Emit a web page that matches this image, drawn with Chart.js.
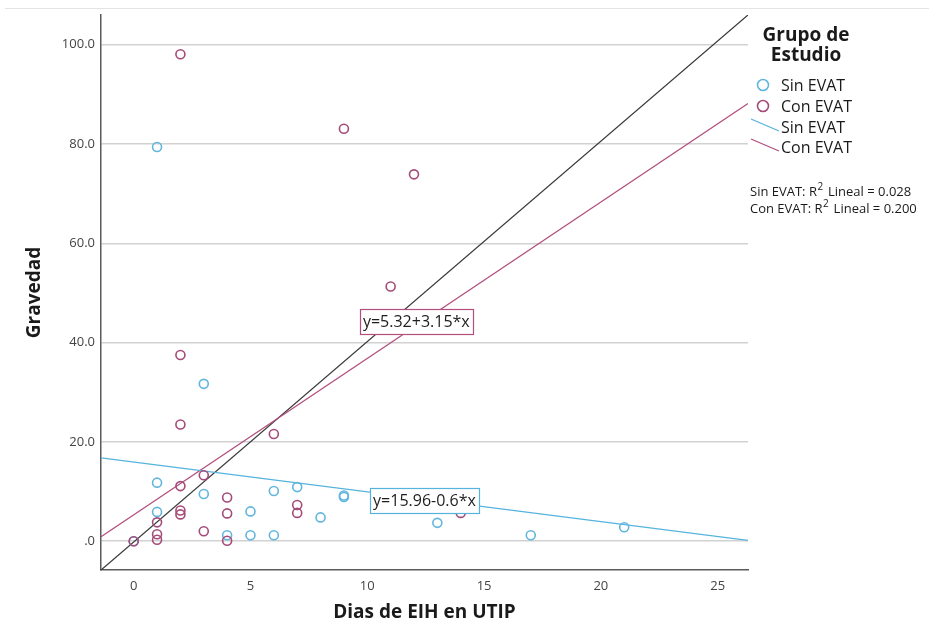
<!DOCTYPE html>
<html>
<head>
<meta charset="utf-8">
<script src="https://cdn.jsdelivr.net/npm/chart.js@4/dist/chart.umd.min.js"></script>
<style>
  html, body { margin: 0; padding: 0; background: #ffffff; }
  #wrap { width: 929px; height: 631px; }
</style>
</head>
<body>
<div id="wrap"><canvas id="c" width="929" height="631"></canvas></div>
<script>
// Grupo de estudio
const groupNames = ['Sin EVAT', 'Con EVAT'];

// Sin EVAT: días de EIH en UTIP y gravedad
const sinDias     = [0, 1, 1, 1, 3, 3, 4, 5, 5, 6, 6, 7, 8, 9, 9, 13, 17, 21];
const sinGravedad = [0, 79.4, 11.8, 5.9, 31.7, 9.5, 1.2, 6.0, 1.2, 10.1, 1.2, 10.9, 4.8, 8.9, 9.2, 3.7, 1.2, 2.8];

// Con EVAT: días de EIH en UTIP y gravedad
const conDias     = [0, 1, 1, 1, 2, 2, 2, 2, 2, 2, 3, 3, 4, 4, 4, 6, 7, 7, 9, 11, 12, 14];
const conGravedad = [0, 3.8, 1.4, 0.3, 98.1, 37.5, 23.5, 11.1, 6.2, 5.4, 13.3, 2.0, 8.8, 5.6, 0.1, 21.6, 7.3, 5.7, 83.1, 51.3, 73.9, 5.7];

// Ajustes lineales (intercepto, pendiente, R²)
const fitIntercept = [15.96, 5.32];
const fitSlope     = [-0.6, 3.15];
const fitR2        = ['0.028', '0.200'];
const fitLabels    = ['y=15.96-0.6*x', 'y=5.32+3.15*x'];

// Ejes
const xTicks = [0, 5, 10, 15, 20, 25];
const yTicks = [0, 20, 40, 60, 80, 100];
const xMin = -1.4, xMax = 26.3;
const yMin = -5.8, yMax = 106;

const BLUE_PT = '#62b6de';
const PINK_PT = '#a44b79';
const BLUE_LN = '#55b3dd';
const PINK_LN = '#b24f7d';
const FONT = "'Open Sans', 'DejaVu Sans', sans-serif";

const toPoints = (xs, ys) => xs.map((x, i) => ({ x, y: ys[i] }));
const fitLine = (k) => [
  { x: xMin, y: fitIntercept[k] + fitSlope[k] * xMin },
  { x: xMax, y: fitIntercept[k] + fitSlope[k] * xMax }
];

// Etiquetas de ecuación, leyenda y R²
const overlay = {
  id: 'overlay',
  beforeDraw(chart) {
    const ctx = chart.ctx;
    ctx.save();
    ctx.strokeStyle = '#e4e4e4';
    ctx.lineWidth = 1;
    ctx.beginPath();
    ctx.moveTo(5, 8.5);
    ctx.lineTo(929, 8.5);
    ctx.stroke();
    ctx.restore();
  },
  afterDatasetsDraw(chart) {
    const ctx = chart.ctx;
    const xs = chart.scales.x, ys = chart.scales.y;
    const anchors = [12.45, 12.1];
    const borders = [BLUE_LN, PINK_LN];
    ctx.save();
    ctx.font = '16px ' + FONT;
    ctx.textBaseline = 'middle';
    ctx.textAlign = 'center';
    for (let k = 0; k < 2; k++) {
      const dx = anchors[k];
      const cx = xs.getPixelForValue(dx);
      const cy = ys.getPixelForValue(fitIntercept[k] + fitSlope[k] * dx) + (k === 1 ? -4 : 1);
      const w = ctx.measureText(fitLabels[k]).width + 6;
      const h = 25;
      const bx = Math.round(cx - w / 2) + 0.5, by = Math.round(cy - h / 2) + 0.5;
      ctx.fillStyle = '#ffffff';
      ctx.fillRect(bx, by, Math.round(w), h);
      ctx.strokeStyle = borders[k];
      ctx.lineWidth = 1.2;
      ctx.strokeRect(bx, by, Math.round(w), h);
      ctx.fillStyle = '#1e1e1e';
      ctx.fillText(fitLabels[k], cx, cy + 1);
    }
    ctx.restore();
  },
  afterDraw(chart) {
    const ctx = chart.ctx;
    ctx.save();
    // título de la leyenda
    ctx.fillStyle = '#1a1a1a';
    ctx.textAlign = 'center';
    ctx.textBaseline = 'middle';
    ctx.font = 'bold 19px ' + FONT;
    ctx.fillText('Grupo de', 806, 36);
    ctx.fillText('Estudio', 806, 56);

    // marcadores
    ctx.font = '16px ' + FONT;
    ctx.textAlign = 'left';
    const ptCols = [BLUE_PT, PINK_PT];
    const lnCols = [BLUE_LN, PINK_LN];
    for (let k = 0; k < 2; k++) {
      const y = 85 + k * 21;
      ctx.strokeStyle = ptCols[k];
      ctx.lineWidth = 1.6;
      ctx.beginPath();
      ctx.arc(763, y, 5.5, 0, Math.PI * 2);
      ctx.stroke();
      ctx.fillStyle = '#1a1a1a';
      ctx.fillText(groupNames[k], 781, y + 1);
    }
    for (let k = 0; k < 2; k++) {
      const y = 127 + k * 20;
      ctx.strokeStyle = lnCols[k];
      ctx.lineWidth = 1.3;
      ctx.beginPath();
      ctx.moveTo(751, y - 8);
      ctx.lineTo(779, y + 4);
      ctx.stroke();
      ctx.fillStyle = '#1a1a1a';
      ctx.fillText(groupNames[k], 781, y + 1);
    }

    // R² lineal
    ctx.fillStyle = '#1a1a1a';
    for (let k = 0; k < 2; k++) {
      const y = 192 + k * 17;
      let x = 750;
      ctx.font = '13px ' + FONT;
      const a = groupNames[k] + ': R';
      ctx.fillText(a, x, y);
      x += ctx.measureText(a).width;
      ctx.font = '10px ' + FONT;
      ctx.fillText('2', x + 0.5, y - 5);
      x += ctx.measureText('2').width + 2;
      ctx.font = '13px ' + FONT;
      ctx.fillText(' Lineal = ' + fitR2[k], x, y);
    }
    ctx.restore();
  }
};

new Chart(document.getElementById('c'), {
  type: 'scatter',
  data: {
    datasets: [
      {
        label: groupNames[0],
        data: toPoints(sinDias, sinGravedad),
        borderColor: BLUE_PT,
        backgroundColor: 'rgba(0,0,0,0)',
        borderWidth: 1.6,
        pointRadius: 4.5,
        order: 1
      },
      {
        label: groupNames[1],
        data: toPoints(conDias, conGravedad),
        borderColor: PINK_PT,
        backgroundColor: 'rgba(0,0,0,0)',
        borderWidth: 1.6,
        pointRadius: 4.5,
        order: 0
      },
      {
        type: 'line',
        label: groupNames[0] + ' ajuste',
        data: fitLine(0),
        borderColor: BLUE_LN,
        borderWidth: 1.3,
        pointRadius: 0,
        fill: false,
        order: 3
      },
      {
        type: 'line',
        label: groupNames[1] + ' ajuste',
        data: fitLine(1),
        borderColor: PINK_LN,
        borderWidth: 1.3,
        pointRadius: 0,
        fill: false,
        order: 3
      },
      {
        type: 'line',
        label: 'diagonal',
        data: [{ x: xMin, y: yMin }, { x: xMax, y: yMax }],
        borderColor: '#383838',
        borderWidth: 1.3,
        pointRadius: 0,
        fill: false,
        order: 4
      }
    ]
  },
  options: {
    responsive: false,
    animation: false,
    devicePixelRatio: 1,
    layout: { padding: { left: 0, right: 181, top: 15, bottom: 0 } },
    plugins: { legend: { display: false }, tooltip: { enabled: false } },
    scales: {
      x: {
        type: 'linear',
        min: xMin,
        max: xMax,
        afterBuildTicks: (s) => { s.ticks = xTicks.map(v => ({ value: v })); },
        afterFit: (s) => { s.height = 61; },
        grid: { display: false, drawTicks: false },
        border: { display: true, color: '#5a5a5a', width: 1.5 },
        ticks: {
          padding: 8,
          color: '#444444',
          font: { family: FONT, size: 13 },
          callback: (v) => String(v)
        },
        title: {
          display: true,
          text: 'Dias de EIH en UTIP',
          color: '#1a1a1a',
          font: { family: FONT, size: 19, weight: 'bold' },
          padding: { top: 0, bottom: 7 }
        }
      },
      y: {
        type: 'linear',
        min: yMin,
        max: yMax,
        afterBuildTicks: (s) => { s.ticks = yTicks.map(v => ({ value: v })); },
        afterFit: (s) => { s.width = 101; },
        grid: { color: '#d2d2d2', lineWidth: 1.5, drawTicks: false },
        border: { display: true, color: '#5a5a5a', width: 1.5 },
        ticks: {
          padding: 6,
          color: '#444444',
          font: { family: FONT, size: 13 },
          callback: (v) => (v === 0 ? '.0' : v.toFixed(1))
        },
        title: {
          display: true,
          text: 'Gravedad',
          color: '#1a1a1a',
          font: { family: FONT, size: 19, weight: 'bold' },
          padding: { top: 23, bottom: 0 }
        }
      }
    }
  },
  plugins: [overlay]
});
</script>
</body>
</html>
